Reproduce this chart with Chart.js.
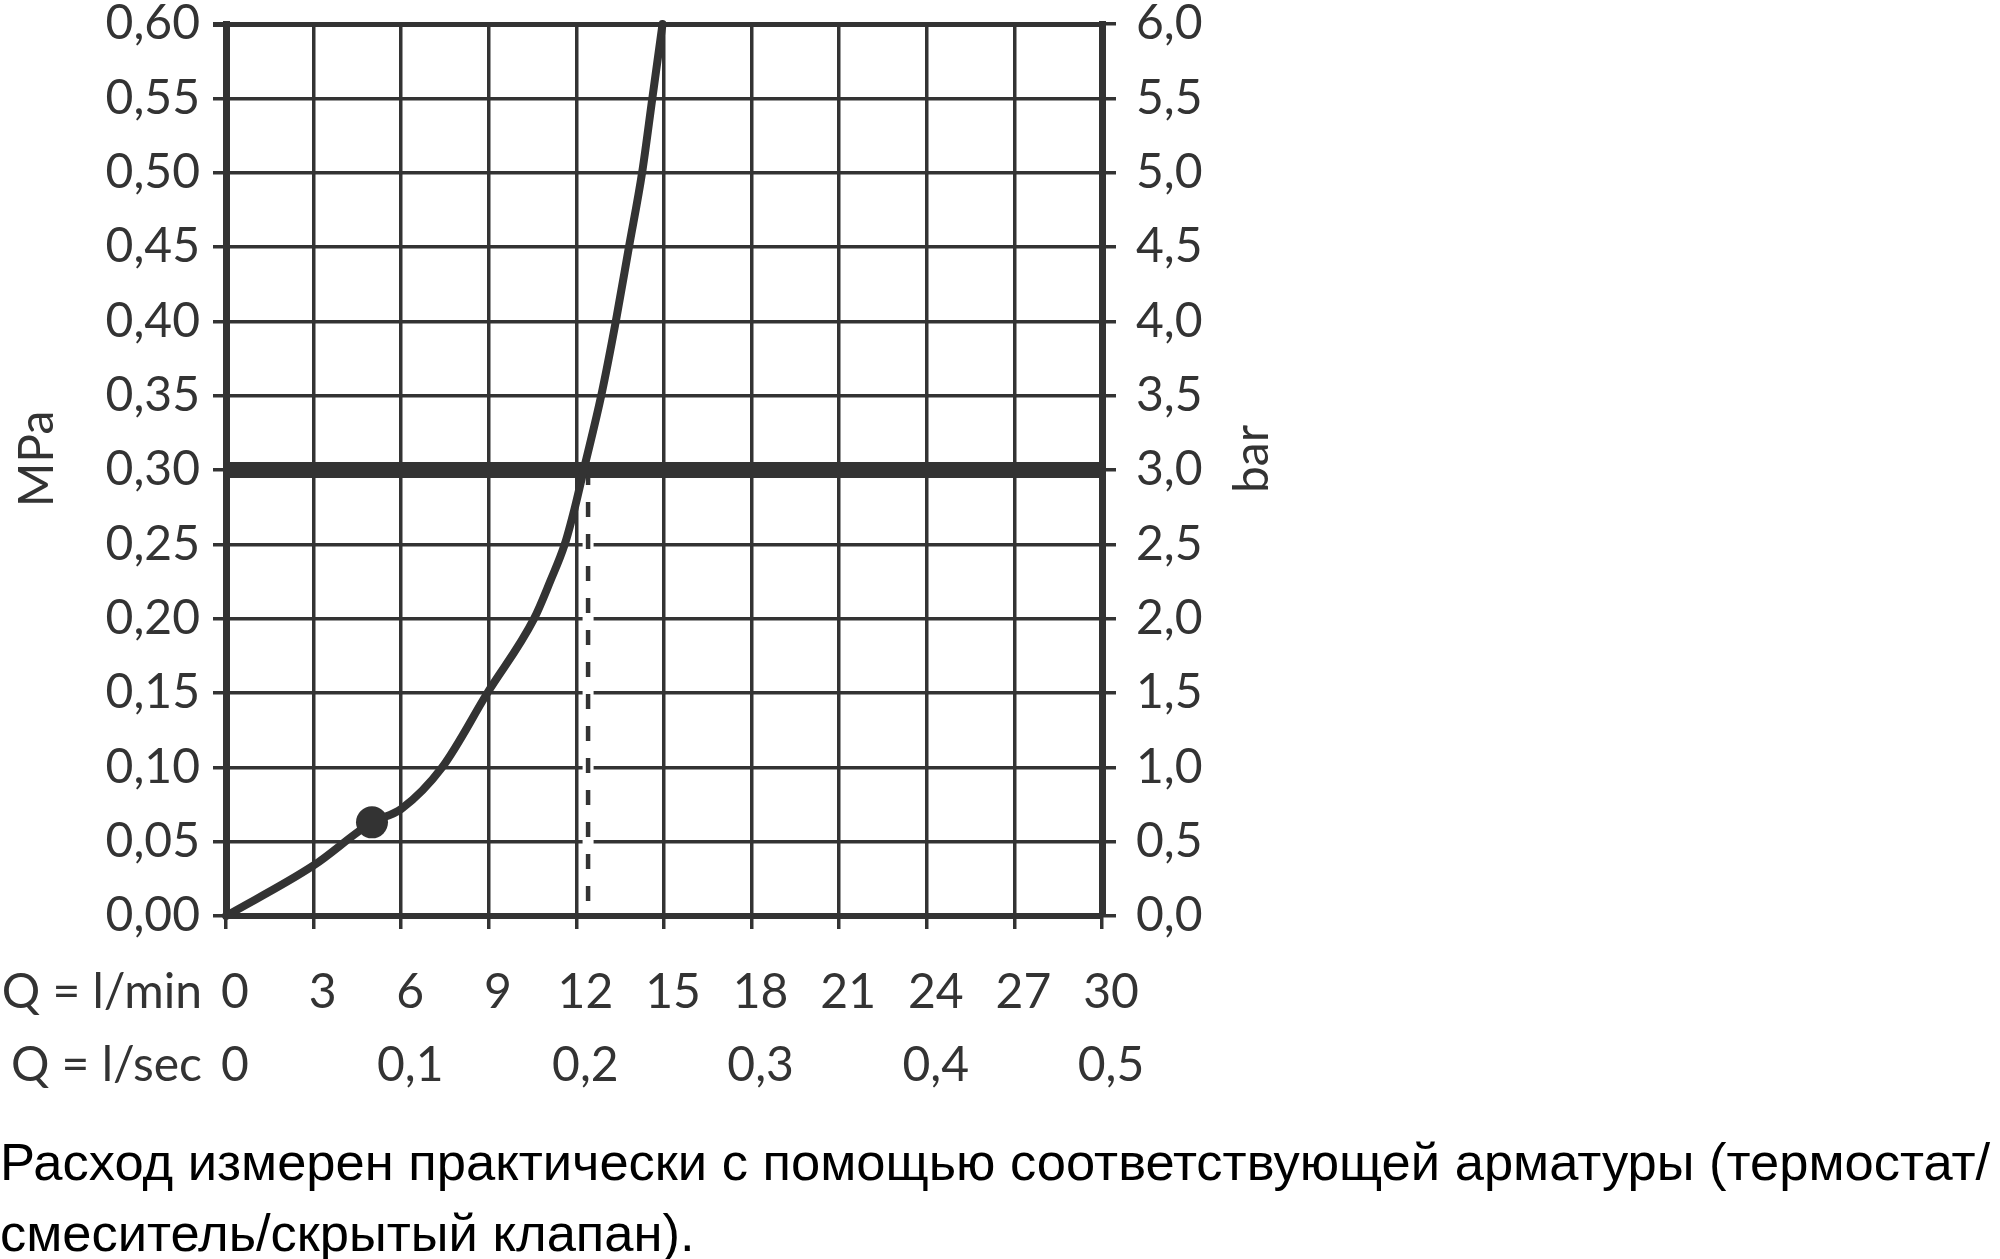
<!DOCTYPE html>
<html><head><meta charset="utf-8">
<script src="https://cdn.jsdelivr.net/npm/chart.js@4/dist/chart.umd.min.js"></script>
<style>
html,body{margin:0;padding:0;background:#fff;}
#wrap{position:relative;width:2000px;height:1259px;overflow:hidden;background:#fff;}
#c{position:absolute;left:0;top:0;}
#cap{position:absolute;left:0;top:1126px;width:2000px;font-family:"Liberation Sans",Arial,sans-serif;font-size:52.5px;line-height:71px;color:#000;white-space:nowrap;}
</style></head><body>
<div id="wrap"><canvas id="c" width="2000" height="1110"></canvas>
<div id="cap">Расход измерен практически с помощью соответствующей арматуры (термостат/<br>смеситель/скрытый клапан).</div></div>
<script>
// curve: flow (l/min) vs pressure (MPa)
const flowLpm     = [0, 3, 5, 6, 7.4, 8.95, 10.55, 11.1, 11.6, 11.95, 12.25, 12.85, 13.35, 13.8, 14.25, 14.6, 14.95];
const pressureMPa = [0, 0.034, 0.063, 0.072, 0.10, 0.15, 0.20, 0.225, 0.25, 0.275, 0.30, 0.35, 0.40, 0.45, 0.50, 0.55, 0.60];
// marked point
const dotLpm = [5];
const dotMPa = [0.063];
// 3 bar reference line
const refLpm = [0, 30];
const refMPa = [0.30, 0.30];
// dashed read-off line
const markLpm = [12.4, 12.4];
const markMPa = [0.30, 0];

// ticks
const yValsMPa   = [0, 0.05, 0.10, 0.15, 0.20, 0.25, 0.30, 0.35, 0.40, 0.45, 0.50, 0.55, 0.60];
const yLabelsMPa = ['0,00','0,05','0,10','0,15','0,20','0,25','0,30','0,35','0,40','0,45','0,50','0,55','0,60'];
const yValsBar   = [0, 0.5, 1, 1.5, 2, 2.5, 3, 3.5, 4, 4.5, 5, 5.5, 6];
const yLabelsBar = ['0,0','0,5','1,0','1,5','2,0','2,5','3,0','3,5','4,0','4,5','5,0','5,5','6,0'];
const xValsLpm   = [0, 3, 6, 9, 12, 15, 18, 21, 24, 27, 30];
const xLabelsLpm = ['0','3','6','9','12','15','18','21','24','27','30'];
const xValsLps   = [0, 0.1, 0.2, 0.3, 0.4, 0.5];
const xLabelsLps = ['0','0,1','0,2','0,3','0,4','0,5'];
const axisTitleLeft = 'MPa';
const axisTitleRight = 'bar';
const rowLabels = ['Q = l/min', 'Q = l/sec'];

const INK = '#333333';
const FONT = {family: 'Lato', size: 48};
const X_PAD = 35, X2_PAD = 21, X_TICK = 13;

const pts = (xs, ys) => xs.map((x, i) => ({x: x, y: ys[i]}));

const extraText = {
  id: 'extraText',
  afterDraw(chart) {
    const {ctx, chartArea: a} = chart;
    ctx.save();
    ctx.fillStyle = INK;
    ctx.font = FONT.size + 'px ' + FONT.family;
    ctx.textBaseline = 'middle';
    ctx.textAlign = 'center';
    const cy = (a.top + a.bottom) / 2 - 11;
    [[axisTitleLeft, a.left - 188], [axisTitleRight, a.right + 151]].forEach(([t, x]) => {
      ctx.save(); ctx.translate(x, cy); ctx.rotate(-Math.PI / 2); ctx.fillText(t, 0, 0); ctx.restore();
    });
    ctx.textAlign = 'right';
    const lh = FONT.size * 1.2 / 2;
    ctx.fillText(rowLabels[0], a.left - 24, chart.scales.x.top + X_TICK + X_PAD + lh);
    ctx.fillText(rowLabels[1], a.left - 24, chart.scales.x2.top + X2_PAD + lh);
    ctx.restore();
  }
};

new Chart(document.getElementById('c'), {
  type: 'line',
  data: {
    datasets: [
      {label: 'band', data: pts(markLpm, markMPa), borderColor: '#ffffff', borderWidth: 11, pointRadius: 0, order: 6},
      {label: 'dash', data: pts(markLpm, markMPa), borderColor: INK, borderWidth: 4.5, borderDash: [15, 17], pointRadius: 0, order: 5},
      {label: 'ref', data: pts(refLpm, refMPa), borderColor: INK, borderWidth: 16, pointRadius: 0, order: 4},
      {label: 'curve', data: pts(flowLpm, pressureMPa), borderColor: INK, borderWidth: 8, pointRadius: 0,
       cubicInterpolationMode: 'monotone', borderCapStyle: 'round', borderJoinStyle: 'round', order: 3, clip: false},
      {label: 'dot', data: pts(dotLpm, dotMPa), showLine: false, pointRadius: 16, pointBackgroundColor: INK, pointBorderColor: INK, pointBorderWidth: 0, order: 2}
    ]
  },
  options: {
    responsive: false,
    animation: false,
    events: [],
    layout: {padding: {left: 0, right: 698, top: 24, bottom: 14}},
    plugins: {legend: {display: false}, tooltip: {enabled: false}, title: {display: false}},
    scales: {
      x: {
        type: 'linear', position: 'bottom', min: 0, max: 30, weight: 0,
        afterBuildTicks: s => { s.ticks = xValsLpm.map(v => ({value: v})); },
        afterFit: s => { s.height = 100; s.paddingLeft = 0; s.paddingRight = 0; },
        grid: {color: INK, lineWidth: 3.5, tickLength: X_TICK, drawTicks: true},
        border: {display: true, color: INK, width: 6, z: 1},
        ticks: {callback: (v, i) => xLabelsLpm[i], font: FONT, color: INK, padding: X_PAD, labelOffset: 9, maxRotation: 0, autoSkip: false}
      },
      x2: {
        type: 'linear', position: 'bottom', min: 0, max: 0.5, weight: 1,
        afterBuildTicks: s => { s.ticks = xValsLps.map(v => ({value: v})); },
        afterFit: s => { s.height = 80; s.paddingLeft = 0; s.paddingRight = 0; },
        grid: {display: false, drawTicks: false, drawOnChartArea: false},
        border: {display: false},
        ticks: {callback: (v, i) => xLabelsLps[i], font: FONT, color: INK, padding: X2_PAD, labelOffset: 9, maxRotation: 0, autoSkip: false}
      },
      y: {
        type: 'linear', position: 'left', min: 0, max: 0.6,
        afterBuildTicks: s => { s.ticks = yValsMPa.map(v => ({value: v})); },
        afterFit: s => { s.width = 226; s.paddingTop = 0; s.paddingBottom = 0; },
        grid: {color: INK, lineWidth: c => (c.index === yValsMPa.length - 1 ? 5 : 3.5), tickLength: 13},
        border: {color: INK, width: 7},
        ticks: {callback: (v, i) => yLabelsMPa[i], font: FONT, color: INK, padding: 13, autoSkip: false}
      },
      y1: {
        type: 'linear', position: 'right', min: 0, max: 6,
        afterBuildTicks: s => { s.ticks = yValsBar.map(v => ({value: v})); },
        afterFit: s => { s.width = 200; s.paddingTop = 0; s.paddingBottom = 0; },
        grid: {drawOnChartArea: false, color: INK, lineWidth: 3.5, tickLength: 14},
        border: {color: INK, width: 7},
        ticks: {callback: (v, i) => yLabelsBar[i], font: FONT, color: INK, padding: 20, autoSkip: false}
      }
    }
  },
  plugins: [extraText]
});
</script>
</body></html>
